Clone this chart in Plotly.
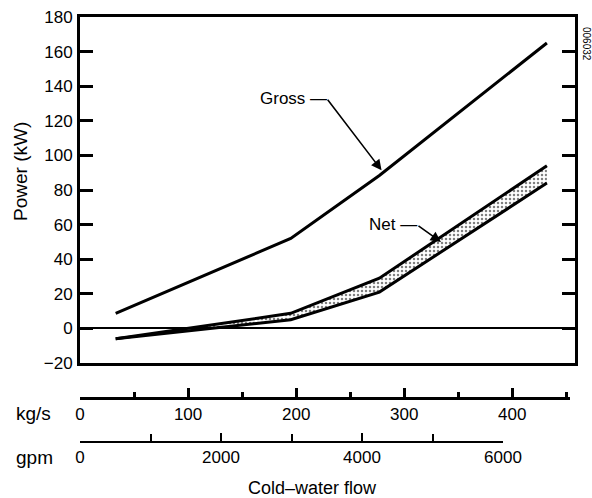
import plotly.graph_objects as go

# ---- data ----
gross_x = [33, 195, 277, 432]
gross_y = [8.7, 52, 88.4, 165]

net_x = [33, 195, 277, 432]
net_upper = [-6, 8.7, 29, 94]
net_lower = [-6, 5, 21, 84]

y_ticks = list(range(-20, 181, 20))
kgs_labels = [0, 100, 200, 300, 400]
gpm_labels = [0, 2000, 4000, 6000]

FONT = "Liberation Sans, Arial, Helvetica, sans-serif"
W, H = 592, 498
L, R, T, B = 80, 17, 17, 56
PW, PH = W - L - R, H - T - B

def px_x(px):
    return (px - L) / PW

def px_y(py):
    return (H - B - py) / PH

X_MAX = 458
main_bottom = px_y(363)

fig = go.Figure()

# Net band (lower then upper with stipple fill)
fig.add_trace(go.Scatter(x=net_x, y=net_lower, mode="lines",
                         line=dict(color="black", width=3),
                         showlegend=False, hoverinfo="skip"))
fig.add_trace(go.Scatter(x=net_x, y=net_upper, mode="lines",
                         line=dict(color="black", width=3),
                         fill="tonexty", fillcolor="white",
                         fillpattern=dict(shape=".", fgcolor="black", bgcolor="white",
                                          size=4, solidity=0.3),
                         showlegend=False, hoverinfo="skip"))
# Gross
fig.add_trace(go.Scatter(x=gross_x, y=gross_y, mode="lines",
                         line=dict(color="black", width=3),
                         showlegend=False, hoverinfo="skip"))

# invisible traces to activate the extra flow axes
fig.add_trace(go.Scatter(x=[kgs_labels[0]], y=[0], xaxis="x2", yaxis="y", mode="markers",
                         marker=dict(opacity=0), showlegend=False, hoverinfo="skip"))
fig.add_trace(go.Scatter(x=[gpm_labels[0]], y=[0], xaxis="x3", yaxis="y", mode="markers",
                         marker=dict(opacity=0), showlegend=False, hoverinfo="skip"))

kgs_dom = px_x(570)
gpm_dom = px_x(503)

fig.update_layout(
    width=W, height=H,
    margin=dict(l=L, r=R, t=T, b=B, autoexpand=False),
    paper_bgcolor="white", plot_bgcolor="rgba(0,0,0,0)",
    font=dict(family=FONT, size=17, color="black"),
    xaxis=dict(domain=[0, 1], range=[0, X_MAX], showgrid=False, zeroline=False,
               showticklabels=False, ticks="", showline=True, linecolor="black",
               linewidth=3, mirror=True, anchor="y", automargin=False),
    yaxis=dict(domain=[main_bottom, 1], range=[-20, 180], tickvals=y_ticks,
               showgrid=False, zeroline=True, zerolinecolor="black", zerolinewidth=1.5,
               ticks="inside", ticklen=13, tickwidth=3, tickcolor="black",
               showline=True, linecolor="black", linewidth=3, mirror="ticks",
               ticklabelstandoff=1, tickfont=dict(size=17), automargin=False),
    xaxis2=dict(domain=[0, kgs_dom], range=[0, X_MAX * kgs_dom], anchor="free",
                position=px_y(398), side="bottom", showgrid=False, zeroline=False,
                tickvals=kgs_labels, ticks="inside", ticklen=9, tickwidth=2.5,
                tickcolor="black", showline=True, linecolor="black", linewidth=2.5,
                minor=dict(dtick=50, tick0=0, ticks="inside", ticklen=5, tickwidth=2.5,
                           tickcolor="black"),
                tickfont=dict(size=17), automargin=False),
    xaxis3=dict(domain=[0, gpm_dom], range=[0, 6000], anchor="free",
                position=0, side="bottom", showgrid=False, zeroline=False,
                tickvals=gpm_labels, ticks="inside", ticklen=8, tickwidth=2,
                tickcolor="black", showline=True, linecolor="black", linewidth=1.5,
                minor=dict(dtick=1000, tick0=0, ticks="inside", ticklen=7, tickwidth=2,
                           tickcolor="black"),
                tickfont=dict(size=17), automargin=False),
)

ann = []
# Axis titles
ann.append(dict(text="Power (kW)", xref="paper", yref="paper", x=px_x(20), y=px_y(172),
                textangle=-90, showarrow=False, font=dict(size=19),
                xanchor="center", yanchor="middle"))
ann.append(dict(text="Cold–water flow", xref="paper", yref="paper", x=px_x(312), y=px_y(488),
                showarrow=False, font=dict(size=18), xanchor="center", yanchor="middle"))
ann.append(dict(text="kg/s", xref="paper", yref="paper", x=px_x(14), y=px_y(413),
                showarrow=False, font=dict(size=19), xanchor="left", yanchor="middle"))
ann.append(dict(text="gpm", xref="paper", yref="paper", x=px_x(14), y=px_y(457),
                showarrow=False, font=dict(size=19), xanchor="left", yanchor="middle"))
ann.append(dict(text="006032", xref="paper", yref="paper", x=px_x(586), y=px_y(44),
                textangle=90, showarrow=False, font=dict(size=10),
                xanchor="center", yanchor="middle"))

# Gross arrow + label
g_ax, g_ay = -55, -72
ann.append(dict(text="", x=gross_x[2] + 2, y=gross_y[2] + 3, xref="x", yref="y",
                showarrow=True, ax=g_ax, ay=g_ay, arrowhead=2, arrowsize=1.3,
                arrowwidth=1.6, arrowcolor="black"))
ann.append(dict(text="Gross —", x=gross_x[2] + 2, y=gross_y[2] + 3, xref="x", yref="y",
                showarrow=False, xshift=g_ax + 2, yshift=-g_ay, xanchor="right",
                yanchor="middle", font=dict(size=17)))

# Net arrow + label
n_ax, n_ay = -24, -17
ann.append(dict(text="", x=334, y=50, xref="x", yref="y",
                showarrow=True, ax=n_ax, ay=n_ay, arrowhead=2, arrowsize=1.3,
                arrowwidth=1.6, arrowcolor="black"))
ann.append(dict(text="Net —", x=334, y=50, xref="x", yref="y",
                showarrow=False, xshift=n_ax + 2, yshift=-n_ay, xanchor="right",
                yanchor="middle", font=dict(size=17)))

fig.update_layout(annotations=ann)
fig.write_html("out.html", config={"displayModeBar": False},
               post_script="document.body.style.margin='0';document.body.style.overflow='hidden';")
